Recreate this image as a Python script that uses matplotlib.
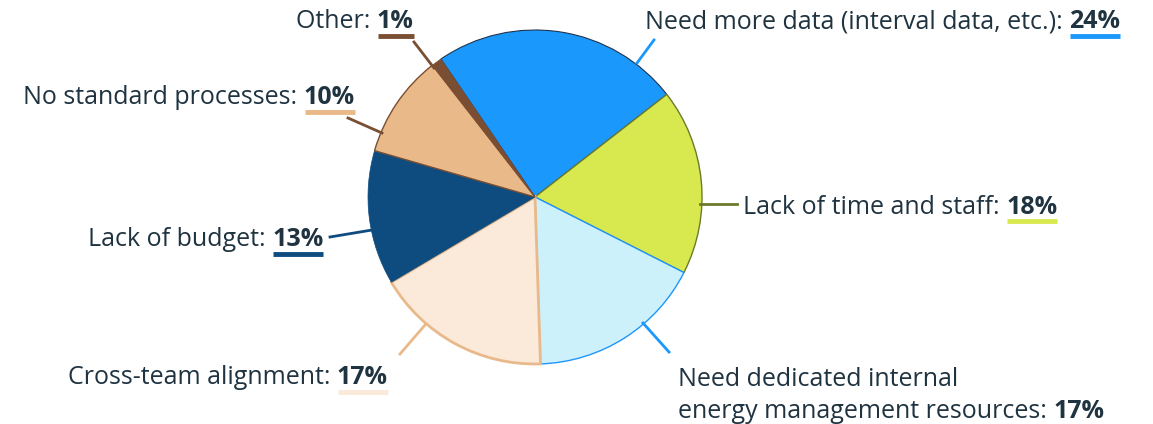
import matplotlib
matplotlib.use("Agg")
import matplotlib.pyplot as plt

categories = ["Need more data (interval data, etc.)", "Lack of time and staff",
              "Need dedicated internal\nenergy management resources", "Cross-team alignment",
              "Lack of budget", "No standard processes", "Other"]
values = [24, 18, 17, 17, 13, 10, 1]
colors = ["#1B98FC", "#D8E950", "#CCF1FA", "#FBE9DA", "#0E4C80", "#E9B989", "#7A4E32"]
edge_colors = ["#1E3550", "#6B7B2B", "#1E96FC", "#E8B98A", "#0E4C80", "#7A4E32", "#7A4E32"]
edge_widths = [0.8, 1.0, 1.0, 2.0, 0.5, 1.0, 0.5]
line_colors = ["#1B98FC", "#6B7B2B", "#1B98FC", "#E9B989", "#0E4C80", "#7A4E32", "#7A4E32"]
underline_colors = ["#1B98FC", "#D8E950", None, "#FBE9DA", "#0E4C80", "#E9B989", "#7A4E32"]

W, H = 1153, 424
TEXT = "#1F3340"
FONT = "Open Sans"
FS = 18

fig = plt.figure(figsize=(W / 100, H / 100), dpi=100)
ax = fig.add_axes([0, 0, 1, 1])

wedges, _ = ax.pie(values, colors=colors, startangle=124.3, counterclock=False,
                   center=(535, H - 197), radius=167, frame=True)
for w, ec, lw in zip(wedges, edge_colors, edge_widths):
    w.set_edgecolor(ec)
    w.set_linewidth(lw)
ax.set_xlim(0, W)
ax.set_ylim(0, H)
ax.axis("off")

# layout: (text x, text center y in px), leader line (x0,y0,x1,y1) px
label_pos = [(645, 22), (743, 207), (678, 396), (68, 378), (88, 240), (23, 98), (296, 22)]
leaders = [(654, 40, 637, 63), (700, 204, 737, 204), (643, 323, 669, 352),
           (400, 354, 425, 325), (330, 237, 372, 230), (348, 118, 382, 133),
           (414, 42, 434, 68)]

fig.canvas.draw()
renderer = fig.canvas.get_renderer()
for i, cat in enumerate(categories):
    x, y = label_pos[i]
    yy = H - y
    lines = cat.split("\n")
    if len(lines) > 1:
        first = lines[:-1]
        for k, ln in enumerate(first):
            ax.text(x, yy + 33 * (len(first) - k) - 16, ln, fontsize=FS, family=FONT,
                    color=TEXT, va="center", ha="left")
        yy = yy - 16
    t = ax.text(x, yy, lines[-1] + ": ", fontsize=FS, family=FONT, color=TEXT,
                va="center", ha="left")
    bb = t.get_window_extent(renderer)
    p = ax.text(bb.x1, yy, f"{values[i]}%", fontsize=FS, family=FONT, color=TEXT,
                fontweight="bold", va="center", ha="left")
    pb = p.get_window_extent(renderer)
    if underline_colors[i]:
        ax.plot([pb.x0 + 1, pb.x1], [yy - 14, yy - 14], color=underline_colors[i],
                lw=3.5, solid_capstyle="butt")
    x0, y0, x1, y1 = leaders[i]
    ax.plot([x0, x1], [H - y0, H - y1], color=line_colors[i], lw=2)

fig.savefig("out.png", dpi=100)
